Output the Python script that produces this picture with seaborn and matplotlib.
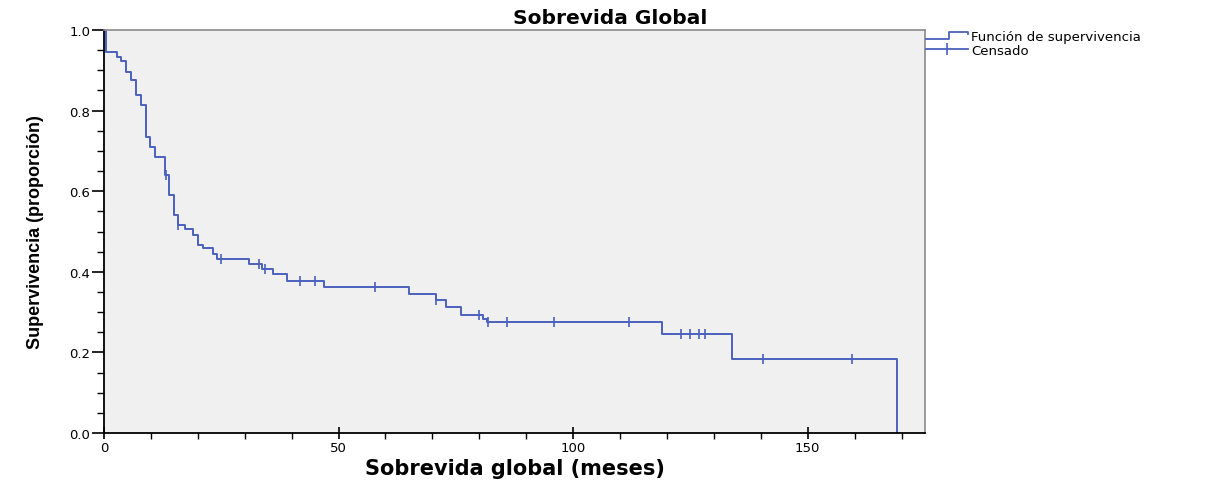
import matplotlib
matplotlib.use("Agg")
import matplotlib.pyplot as plt
from matplotlib.lines import Line2D
from matplotlib.legend_handler import HandlerBase
from matplotlib.ticker import MultipleLocator, FormatStrFormatter
import seaborn as sns
import pandas as pd

# Kaplan-Meier steps (months, survival after the drop)
event_times = [0, 0.5, 2.8, 3.7, 4.6, 5.8, 6.9, 7.8, 9.0, 9.8, 10.8, 13.0, 13.9, 15.0,
               15.7, 17.2, 19.0, 20.1, 21.2, 23.3, 24.0, 30.9, 33.6, 36.1, 39.0, 46.8,
               65.0, 70.8, 72.8, 76.0, 80.8, 81.7, 118.9, 133.9, 169.0]
survival = [1.0, 0.945, 0.934, 0.924, 0.897, 0.875, 0.839, 0.814, 0.734, 0.709, 0.686,
            0.639, 0.590, 0.541, 0.517, 0.506, 0.491, 0.466, 0.458, 0.443, 0.433, 0.419,
            0.406, 0.395, 0.377, 0.362, 0.346, 0.331, 0.313, 0.294, 0.284, 0.275, 0.246,
            0.184, 0.0]

# censored observations
censor_times = [13.2, 15.7, 24.9, 33.0, 34.3, 41.8, 44.9, 57.8, 70.8, 79.9, 81.9, 85.9,
                95.9, 112.0, 123.0, 124.9, 126.8, 128.0, 140.4, 159.4]
censor_surv = [0.639, 0.517, 0.433, 0.419, 0.406, 0.377, 0.377, 0.362, 0.331, 0.294,
               0.275, 0.275, 0.275, 0.275, 0.246, 0.246, 0.246, 0.246, 0.184, 0.184]

legend_labels = ["Función de supervivencia", "Censado"]

blue = "#4a61bd"
df_km = pd.DataFrame({"t": event_times, "s": survival})
df_cens = pd.DataFrame({"t": censor_times, "s": censor_surv})


class StepHandler(HandlerBase):
    def create_artists(self, legend, orig_handle, xdescent, ydescent, width, height,
                       fontsize, trans):
        x0 = -xdescent
        xs = [x0, x0 + width * 0.55, x0 + width * 0.55, x0 + width, x0 + width]
        ys = [height * 0.15, height * 0.15, height * 0.85, height * 0.85, height * 0.65]
        ln = Line2D(xs, ys, color=orig_handle.get_color(),
                    lw=orig_handle.get_linewidth(), transform=trans)
        return [ln]


fig = plt.figure(figsize=(12.27, 4.85), dpi=100)
ax = fig.add_axes([104 / 1227, 51 / 485, 821 / 1227, 403 / 485])
ax.set_facecolor("#f0f0f0")

sns.lineplot(data=df_km, x="t", y="s", ax=ax, estimator=None, sort=False,
             drawstyle="steps-post", color=blue, linewidth=1.4)
sns.scatterplot(data=df_cens, x="t", y="s", ax=ax, marker="|", s=45,
                color=blue, linewidth=1.2, zorder=3)

ax.set_xlim(0, 175)
ax.set_ylim(0, 1.0)
ax.xaxis.set_major_locator(MultipleLocator(50))
ax.xaxis.set_minor_locator(MultipleLocator(10))
ax.yaxis.set_major_locator(MultipleLocator(0.2))
ax.yaxis.set_minor_locator(MultipleLocator(0.05))
ax.yaxis.set_major_formatter(FormatStrFormatter("%.1f"))

ax.tick_params(axis="x", which="major", direction="inout", length=9, width=1.2,
               labelsize=9.5, pad=1)
ax.tick_params(axis="x", which="minor", direction="out", length=4, width=1)
ax.tick_params(axis="y", which="major", direction="out", length=9, width=1.2,
               labelsize=9.5, pad=1)
ax.tick_params(axis="y", which="minor", direction="out", length=5, width=1)
for lab in ax.get_xticklabels() + ax.get_yticklabels():
    lab.set_family("DejaVu Sans")

for side in ["left", "bottom"]:
    ax.spines[side].set_color("black")
    ax.spines[side].set_linewidth(1.3)
for side in ["top", "right"]:
    ax.spines[side].set_color("#8a8a8a")
    ax.spines[side].set_linewidth(1.2)

ax.set_xlabel("Sobrevida global (meses)", fontsize=15, fontweight="bold",
              family="DejaVu Sans", labelpad=3)
ax.set_ylabel("Supervivencia (proporción)", fontsize=13, fontweight="bold",
              family="Liberation Sans", labelpad=18)
fig.text(0.497, 1 - 19 / 485, "Sobrevida Global", ha="center", va="center",
         fontsize=14.5, fontweight="bold", family="DejaVu Sans")

h_surv = Line2D([], [], color=blue, lw=1.3)
h_cens = Line2D([], [], color=blue, lw=1.3, marker="|", markersize=8, markeredgewidth=1.2)
fig.legend([h_surv, h_cens], legend_labels, handler_map={h_surv: StepHandler()},
           loc="upper left", bbox_to_anchor=(926 / 1227, 1 - 31 / 485), frameon=False,
           prop={"family": "DejaVu Sans", "size": 9.5},
           handlelength=3.2, handletextpad=0.2, labelspacing=0.05, borderpad=0,
           borderaxespad=0)

fig.savefig("out.png", dpi=100)
plt.close(fig)
